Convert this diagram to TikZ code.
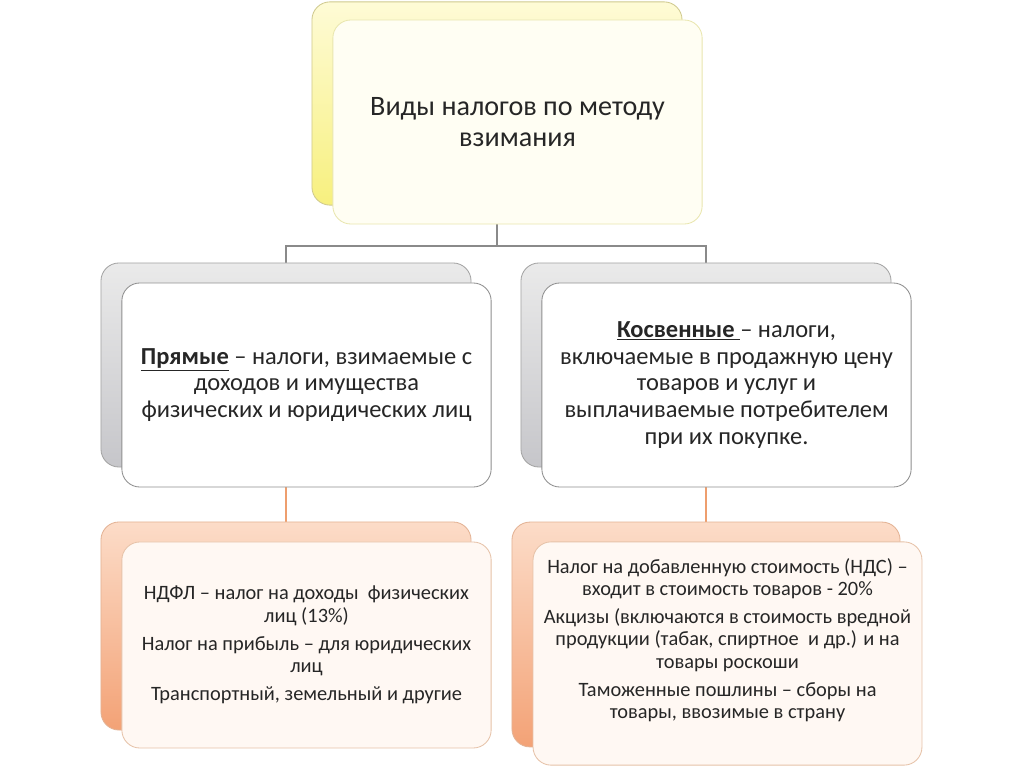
\documentclass[tikz,border=0pt]{standalone}
\usepackage{fontspec}
\setmainfont{Carlito}
\usepackage{tikz}
\usetikzlibrary{backgrounds}

\definecolor{ylwlight}{HTML}{FEFBD6}
\definecolor{ylwdark}{HTML}{F7F07E}
\definecolor{ylwedge}{HTML}{CFC98E}
\definecolor{ylwfront}{HTML}{FFFEF3}
\definecolor{ylwfrontedge}{HTML}{E9E6AE}
\definecolor{grylight}{HTML}{EAEAEA}
\definecolor{grydark}{HTML}{C6C6CA}
\definecolor{gryedge}{HTML}{A3A3A3}
\definecolor{gryfrontedge}{HTML}{8E8E8E}
\definecolor{orglight}{HTML}{FCDCC8}
\definecolor{orgdark}{HTML}{F3A276}
\definecolor{orgedge}{HTML}{E3B294}
\definecolor{orgfront}{HTML}{FFF8F3}
\definecolor{orgfrontedge}{HTML}{E6C2A8}
\definecolor{linegray}{HTML}{8A8A8A}
\definecolor{lineorange}{HTML}{EE9E6E}
\definecolor{txt}{HTML}{262626}

\begin{document}
\begin{tikzpicture}[x=0.025cm, y=-0.025cm,
    box/.style={rounded corners=0.45cm, inner sep=0pt, outer sep=0pt, line width=0.6pt},
    backtop/.style={box, draw=ylwedge, top color=ylwlight, bottom color=ylwdark},
    fronttop/.style={box, draw=ylwfrontedge, fill=ylwfront},
    backmid/.style={box, draw=gryedge, top color=grylight, bottom color=grydark},
    frontmid/.style={box, draw=gryfrontedge, fill=white},
    backlow/.style={box, draw=orgedge, top color=orglight, bottom color=orgdark},
    frontlow/.style={box, draw=orgfrontedge, fill=orgfront},
    titletext/.style={text=txt, align=center, font=\fontsize{20}{22}\selectfont},
    bigtext/.style={text=txt, align=center, font=\fontsize{17.4}{19}\selectfont},
    smalltext/.style={text=txt, align=center, font=\fontsize{14.5}{15.8}\selectfont},
    grayline/.style={draw=linegray, line width=1pt},
    orangeline/.style={draw=lineorange, line width=1.2pt}]
    \useasboundingbox (0,0) rectangle (1024,767);

    % top
    \node[backtop, minimum width=9.25cm, minimum height=5.08cm] (topback) at (497,103.5) {};
    \node[fronttop, titletext, minimum width=9.23cm, minimum height=5.1cm] (topfront) at (517.5,122)
        {Виды налогов по методу\\взимания};

    % direct taxes
    \node[backmid, minimum width=9.25cm, minimum height=5.1cm] (leftback) at (286,365) {};
    \node[frontmid, bigtext, minimum width=9.23cm, minimum height=5.1cm] (leftfront) at (306.5,385)
        {\underline{\textbf{Прямые}} – налоги, взимаемые с\\доходов и имущества\\физических и юридических лиц};

    % indirect taxes
    \node[backmid, minimum width=9.25cm, minimum height=5.1cm] (rightback) at (706,365) {};
    \node[frontmid, bigtext, minimum width=9.23cm, minimum height=5.1cm] (rightfront) at (726.5,385)
        {\underline{\textbf{Косвенные }}– налоги,\\включаемые в продажную цену\\товаров и услуг и\\выплачиваемые потребителем\\при их покупке.};

    % examples, direct
    \node[backlow, minimum width=9.25cm, minimum height=5.2cm] (lowleftback) at (286,626) {};
    \node[frontlow, smalltext, minimum width=9.23cm, minimum height=5.15cm] (lowleftfront) at (306.5,645)
        {НДФЛ – налог на доходы\ \ физических\\лиц (13\%)\\[0.15cm]
        Налог на прибыль – для юридических\\лиц\\[0.15cm]
        Транспортный, земельный и другие};

    % examples, indirect
    \node[backlow, minimum width=9.7cm, minimum height=5.62cm] (lowrightback) at (706,634.5) {};
    \node[frontlow, smalltext, minimum width=9.72cm, minimum height=5.58cm] (lowrightfront) at (727.5,653.5)
        {Налог на добавленную стоимость (НДС) –\\входит в стоимость товаров - 20\%\\[0.15cm]
        Акцизы (включаются в стоимость вредной\\продукции (табак, спиртное\ \ и др.) и на\\товары роскоши\\[0.15cm]
        Таможенные пошлины – сборы на\\товары, ввозимые в страну\\[0.2cm]};

    % connectors
    \coordinate (fork) at (497,246);
    \begin{scope}[on background layer]
        \draw[grayline] (topback.south) -- (fork);
        \draw[grayline] (leftback.north) |- (fork) -| (rightback.north);
        \draw[orangeline] (leftback.south) -- (lowleftback.north);
        \draw[orangeline] (rightback.south) -- (lowrightback.north);
    \end{scope}
\end{tikzpicture}
\end{document}
